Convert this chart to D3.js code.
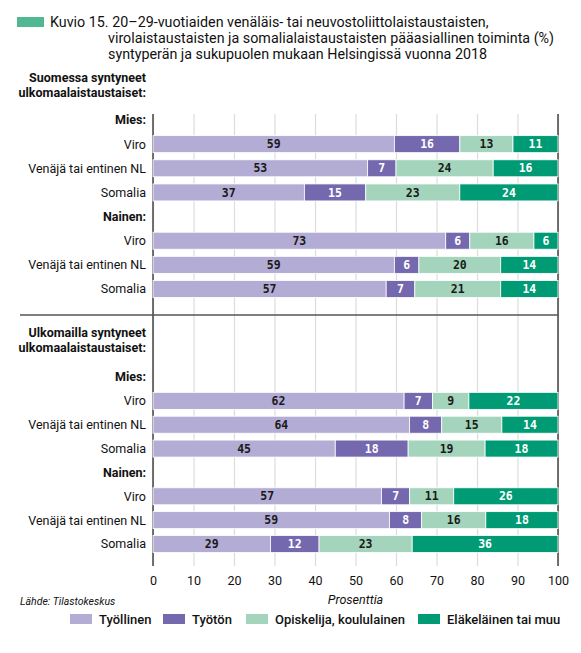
<!DOCTYPE html>
<html><head><meta charset="utf-8">
<script src="https://cdn.jsdelivr.net/npm/d3@7"></script>
<style>
body{margin:0;background:#fff;}
svg{display:block;font-family:Roboto,"Noto Sans",sans-serif;}
</style></head>
<body><svg id="c" width="581" height="653"></svg>
<script>
const titleLines = ["Kuvio 15. 20–29-vuotiaiden venäläis- tai neuvostoliittolaistaustaisten,",
  "virolaistaustaisten ja somalialaistaustaisten pääasiallinen toiminta (%)",
  "syntyperän ja sukupuolen mukaan Helsingissä vuonna 2018"];
const panelTitles = [["Suomessa syntyneet","ulkomaalaistaustaiset:"],["Ulkomailla syntyneet","ulkomaalaistaustaiset:"]];
const genders = ["Mies:", "Nainen:"];
const categories = ["Viro", "Venäjä tai entinen NL", "Somalia"];
const series = ["Työllinen", "Työtön", "Opiskelija, koululainen", "Eläkeläinen tai muu"];
const colors = ["#b3acd4", "#7468ae", "#a4d5bc", "#009b75"];
const labelColors = ["#1a1a1a", "#ffffff", "#1a1a1a", "#ffffff"];
const ticks = [0,10,20,30,40,50,60,70,80,90,100];
// values: [Työllinen, Työtön, Opiskelija, Eläkeläinen]
const suomiMies   = [[59,16,13,11],[53,7,24,16],[37,15,23,24]];
const suomiNainen = [[73,6,16,6],[59,6,20,14],[57,7,21,14]];
const ulkoMies    = [[62,7,9,22],[64,8,15,14],[45,18,19,18]];
const ulkoNainen  = [[57,7,11,26],[59,8,16,18],[29,12,23,36]];
const panels = [[suomiMies, suomiNainen],[ulkoMies, ulkoNainen]];

const svg = d3.select("#c");
const x = d3.scaleLinear().domain([0,100]).range([153,558]);
const plotTop = 114, plotBottom = 566, sepY = 315;
const panelRanges = [[120,289],[377,544]];
const barH = 17;

// title
svg.append("rect").attr("x",17).attr("y",17).attr("width",27).attr("height",10).attr("fill","#52b893");
const tt = svg.append("text").attr("font-size",14.3).attr("fill","#111");
titleLines.forEach((t,i)=>tt.append("tspan").attr("x", i===0?50:108).attr("y",27+i*16).text(t));

// grid
const grid = svg.append("g").attr("transform",`translate(0,${plotBottom})`)
  .call(d3.axisBottom(x).tickValues(ticks).tickSize(-(plotBottom-plotTop)).tickPadding(10).tickFormat(d3.format("d")));
grid.select(".domain").remove();
grid.selectAll(".tick line").attr("stroke","#dcdcdc").attr("stroke-width",1.2);
grid.selectAll(".tick text").attr("font-size",12.5).attr("fill","#111").attr("font-family","Roboto,sans-serif");

// axis frame lines
svg.append("line").attr("x1",x(0)).attr("x2",x(0)).attr("y1",plotTop).attr("y2",plotBottom).attr("stroke","#444").attr("stroke-width",1.5);
svg.append("line").attr("x1",x(100)).attr("x2",x(100)).attr("y1",plotTop).attr("y2",plotBottom).attr("stroke","#444").attr("stroke-width",1.5);
svg.append("line").attr("x1",20).attr("x2",x(100)).attr("y1",sepY).attr("y2",sepY).attr("stroke","#555").attr("stroke-width",1.5);

panels.forEach((panel, pi) => {
  const y = d3.scalePoint().domain(d3.range(8)).range(panelRanges[pi]);
  const pt = svg.append("text").attr("font-size",12.5).attr("font-weight","bold").attr("text-anchor","end").attr("fill","#111");
  const py = pi===0 ? 82 : 337;
  panelTitles[pi].forEach((t,i)=>pt.append("tspan").attr("x",146).attr("y",py+i*15).text(t));
  panel.forEach((rows, gi) => {
    const gIdx = gi*4;
    svg.append("text").attr("x",146).attr("y",y(gIdx)).attr("dy","0.35em").attr("text-anchor","end")
      .attr("font-size",12.5).attr("font-weight","bold").attr("fill","#111").text(genders[gi]);
    rows.forEach((vals, ri) => {
      const cy = y(gIdx+1+ri);
      svg.append("text").attr("x",146).attr("y",cy).attr("dy","0.35em").attr("text-anchor","end")
        .attr("font-size",12.5).attr("fill","#111").text(categories[ri]);
      const total = d3.sum(vals);
      let cum = 0;
      vals.forEach((v, si) => {
        const x0 = x(cum/total*100), x1 = x((cum+v)/total*100);
        cum += v;
        svg.append("rect").attr("x",x0).attr("y",cy-barH/2).attr("width",x1-x0).attr("height",barH)
          .attr("fill",colors[si]).attr("stroke","#fff").attr("stroke-width",0.8);
        svg.append("text").attr("x",(x0+x1)/2).attr("y",cy).attr("dy","0.36em").attr("text-anchor","middle")
          .attr("font-family","'DejaVu Sans Mono',monospace").attr("font-weight","bold").attr("font-size",11.5)
          .attr("fill",labelColors[si]).text(v);
      });
    });
  });
});

svg.append("text").attr("x",x(50)).attr("y",604).attr("text-anchor","middle").attr("font-style","italic")
  .attr("font-size",12.5).attr("fill","#111").text("Prosenttia");
svg.append("text").attr("x",20).attr("y",605).attr("font-style","italic").attr("font-size",10.5).attr("fill","#111").text("Lähde: Tilastokeskus");

const legX = [70,163,246,418];
series.forEach((s,i)=>{
  svg.append("rect").attr("x",legX[i]).attr("y",614).attr("width",22).attr("height",10).attr("fill",colors[i]);
  svg.append("text").attr("x",legX[i]+29).attr("y",624).attr("font-size",13).attr("font-weight",500).attr("fill","#111").text(s);
});
</script></body></html>
